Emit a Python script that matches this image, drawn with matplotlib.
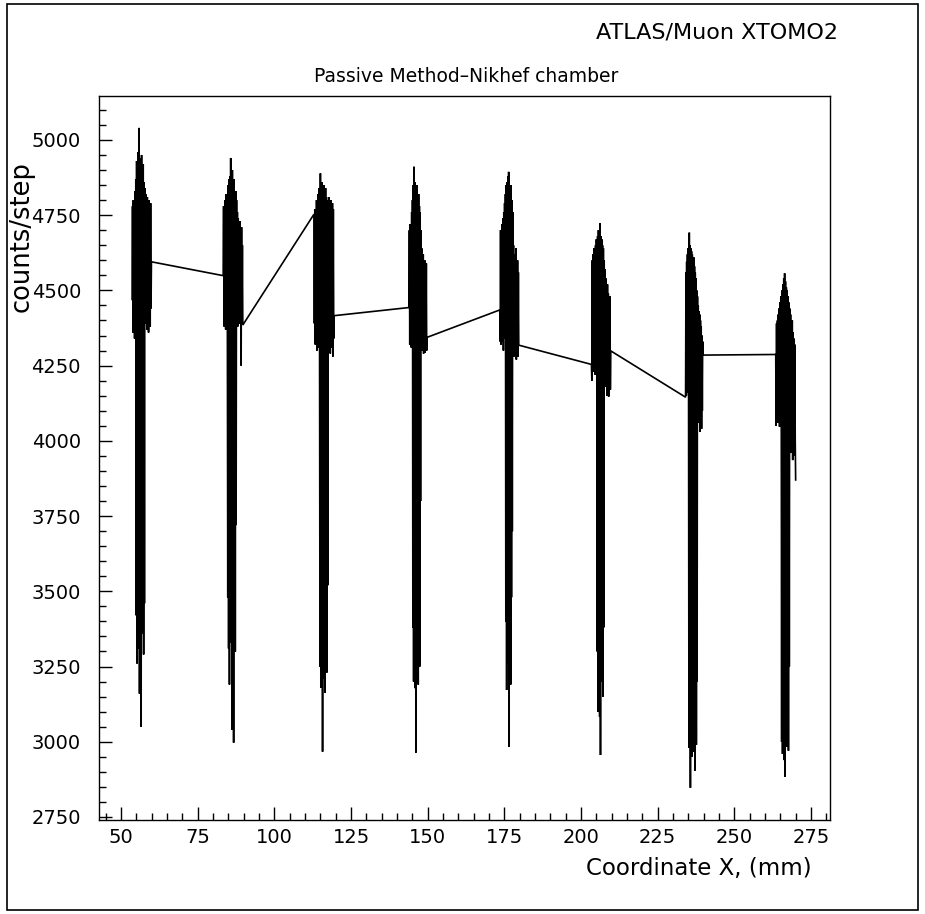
import numpy as np
import matplotlib
matplotlib.use("Agg")
import matplotlib.pyplot as plt
from matplotlib.patches import Rectangle
from matplotlib.ticker import MultipleLocator

# Scan windows along X (mm): start and end of each scanned step group
scan_start = [53.6, 83.3, 112.9, 143.9, 173.5, 203.4, 234.1, 263.5]
scan_end = [59.9, 89.7, 119.5, 149.8, 179.7, 209.7, 239.8, 270.0]

# Counts per step recorded inside each scan window
counts_1 = [4470, 4780, 4360, 4800, 4420, 4760, 4340, 4830, 4410, 4870,
            3420, 4930, 3260, 4890, 3610, 4960, 3310, 5040, 3160, 4940, 3520,
            4900, 3050, 4950, 3360, 4880, 3700, 4920, 3290, 4860, 3460, 4840,
            4390, 4820, 4450, 4780, 4370, 4810, 4430, 4760, 4360, 4800, 4410,
            4770, 4380, 4790, 4440, 4595]
counts_2 = [4549, 4780, 4380, 4760, 4400, 4800, 4370, 4820, 4420, 4790, 4390,
            3480, 4850, 3310, 4870, 3190, 4880, 3650, 4940, 3330, 4860, 3040,
            4900, 3420, 4840, 2997, 4870, 3560, 4820, 3300, 4830, 3720, 4800,
            4400, 4760, 4380, 4740, 4420, 4700, 4390, 4730, 4410, 4680, 4250,
            4710, 4400, 4650, 4385]
counts_3 = [4753, 4390, 4770, 4320, 4750, 4350, 4800, 4300, 4780, 4340, 4820,
            4310, 4840, 4360,
            3250, 4889, 3180, 4850, 3400, 4860, 2967, 4830, 3210, 4850, 3600,
            4820, 3162, 4840, 3330, 4810, 3230, 4800, 3520, 4790,
            4300, 4810, 4330, 4780, 4290, 4800, 4350, 4760, 4310, 4790, 4280,
            4770, 4340, 4416]
counts_4 = [4443, 4700, 4320, 4720, 4350, 4680, 4310, 4760, 4340, 4800,
            3380, 4850, 3200, 4911, 3520, 4860, 3178, 4840, 2964, 4830, 3300,
            4850, 3650, 4800, 3190, 4820, 3420, 4780, 3250, 4760, 3800, 4700,
            4330, 4640, 4300, 4600, 4350, 4620, 4290, 4580, 4320, 4600, 4292,
            4560, 4330, 4590, 4300, 4344]
counts_5 = [4435, 4330, 4700, 4320, 4680, 4350, 4720, 4330, 4740, 4300, 4760,
            4340, 4790, 4360, 4820,
            3400, 4850, 3172, 4860, 3560, 4880, 3260, 4894, 2983, 4840, 3330,
            4820, 3190, 4850, 3480, 4800, 3700, 4760,
            4300, 4650, 4280, 4620, 4330, 4600, 4290, 4640, 4270, 4580, 4310,
            4600, 4280, 4560, 4318]
counts_6 = [4254, 4200, 4600, 4240, 4620, 4230, 4640, 4260, 4600, 4220, 4650,
            4250, 4670, 4280,
            3300, 4680, 3100, 4700, 3450, 4690, 3083, 4723, 2956, 4680, 3200,
            4670, 3600, 4650, 3150, 4640, 3380, 4600,
            4200, 4570, 4180, 4540, 4220, 4500, 4150, 4520, 4190, 4490, 4147,
            4470, 4200, 4480, 4170, 4299]
counts_7 = [4145, 4560, 4150, 4595, 4180, 4620, 4160, 4640, 4200,
            2980, 4692, 3050, 4650, 2847, 4640, 3000, 4630, 2950, 4620, 3100,
            4600, 2967, 4610, 3020, 4580, 2904, 4560, 3080, 4540, 2990, 4500,
            3200, 4480,
            4100, 4450, 4060, 4430, 4120, 4420, 4030, 4400, 4080, 4380, 4040,
            4350, 4100, 4330, 4285]
counts_8 = [4287, 4050, 4390, 4080, 4400, 4060, 4420, 4100, 4440, 4047, 4460,
            4090, 4480, 4120,
            3000, 4500, 2960, 4520, 3100, 4540, 2939, 4557, 2884, 4530, 3050,
            4510, 2983, 4500, 3150, 4480, 2970, 4460, 3250, 4440,
            3990, 4420, 3960, 4380, 4010, 4400, 3936, 4360, 3980, 4340, 3950,
            4320, 4000, 3870]

scans = [counts_1, counts_2, counts_3, counts_4,
         counts_5, counts_6, counts_7, counts_8]

x_major = [50, 75, 100, 125, 150, 175, 200, 225, 250, 275]
y_major = [2750, 3000, 3250, 3500, 3750, 4000, 4250, 4500, 4750, 5000]

# one continuous polyline through all scans
xs, ys = [], []
for x0, x1, c in zip(scan_start, scan_end, scans):
    xs.extend(np.linspace(x0, x1, len(c)))
    ys.extend(c)

W, H = 925, 914
fig = plt.figure(figsize=(W / 100, H / 100), dpi=100)
fig.patch.set_facecolor("white")

ax = fig.add_axes([99 / W, (H - 820) / H, 731 / W, 724 / H])
ax.plot(xs, ys, color="black", lw=1.2, solid_joinstyle="miter")

ax.set_xlim(42.8, 281.2)
ax.set_ylim(2740, 5146)
ax.set_xticks(x_major)
ax.set_yticks(y_major)
ax.xaxis.set_minor_locator(MultipleLocator(5))
ax.yaxis.set_minor_locator(MultipleLocator(50))
ax.tick_params(which="both", direction="in", top=False, right=False,
               width=1.0, colors="black", labelsize=14)
ax.tick_params(which="major", length=9.5)
ax.tick_params(which="minor", length=5)
ax.tick_params(axis="x", pad=6)
ax.tick_params(axis="y", pad=13)
for s in ax.spines.values():
    s.set_linewidth(1.0)

# outer page frame
fig.patches.append(Rectangle((7 / W, 4 / H), 911 / W, 906 / H,
                             transform=fig.transFigure, fill=False,
                             lw=1.2, edgecolor="black"))

fig.text(838 / W, 1 - 33 / H, "ATLAS/Muon XTOMO2", ha="right", va="center",
         fontsize=16)
fig.text(466 / W, 1 - 77 / H, "Passive Method\u2013Nikhef chamber",
         ha="center", va="center", fontsize=13.5)
fig.text(22 / W, 1 - 237 / H, "counts/step", rotation=90, ha="center",
         va="center", fontsize=18.5)
fig.text(812 / W, 1 - 869 / H, "Coordinate X, (mm)", ha="right",
         va="center", fontsize=16.5)

fig.savefig("out.png", dpi=100, facecolor="white")
